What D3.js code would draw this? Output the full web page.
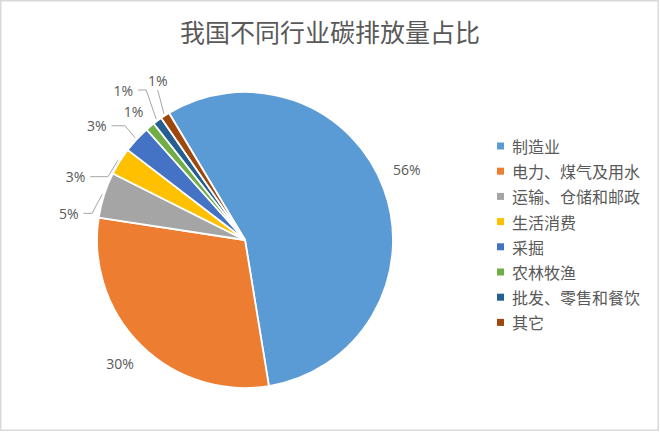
<!DOCTYPE html>
<html><head><meta charset="utf-8">
<script src="https://cdn.jsdelivr.net/npm/d3@7"></script>
<style>body{margin:0;background:#fff;overflow:hidden}</style>
</head><body><svg id="c" width="660" height="433"></svg>
<script>
const title = "我国不同行业碳排放量占比";
const categories = ["制造业","电力、煤气及用水","运输、仓储和邮政","生活消费","采掘","农林牧渔","批发、零售和餐饮","其它"];
const shares = [56,30,5,3,3,1,1,1];
const percentLabels = ["56%","30%","5%","3%","3%","1%","1%","1%"];
const colors = ["#5B9BD5","#ED7D31","#A5A5A5","#FFC000","#4472C4","#70AD47","#255E91","#9E480E"];
// label placement tweaks: [angle shift in degrees, radius factor]
const labelTweak = [[-3.4,1.193],[0.7,1.186],[-9.1,1.205],[-11.6,1.222],[-5.3,1.265],[-1.1,1.149],[-2.75,1.305],[4.0,1.228]];

const W = 660, H = 433;
const svg = d3.select("#c");
const txt = "#595959";
const cjk = "'Noto Sans CJK SC', 'Noto Sans', sans-serif";
const latin = "'Open Sans', Lato, sans-serif";

svg.append("rect").attr("x",0.75).attr("y",0.75).attr("width",W-2.5).attr("height",H-3.5)
  .attr("fill","#fff").attr("stroke","#d9d9d9").attr("stroke-width",1.5);

svg.append("text").attr("x",330).attr("y",31).attr("text-anchor","middle")
  .attr("dominant-baseline","central").attr("font-family",cjk).attr("font-size",25)
  .attr("fill",txt).text(title);

const cx = 245, cy = 240, r = 148;
const rad = Math.PI/180;
const start = -30.9*rad;
const data = categories.map((c,i)=>({name:c, value:shares[i], label:percentLabels[i], color:colors[i], i}));
const pie = d3.pie().value(d=>d.value).sort(null).startAngle(start).endAngle(start+2*Math.PI);
const arcs = pie(data);
const arc = d3.arc().innerRadius(0).outerRadius(r);

const g = svg.append("g").attr("transform",`translate(${cx},${cy})`);
g.selectAll("path").data(arcs).join("path")
  .attr("d",arc).attr("fill",d=>d.data.color)
  .attr("stroke","#fff").attr("stroke-width",1.8).attr("stroke-linejoin","round");

// labels
const lg = svg.append("g");
arcs.forEach(a=>{
  const mid = (a.startAngle+a.endAngle)/2;
  const tw = labelTweak[a.data.i];
  const th = mid + tw[0]*rad, d = r*tw[1];
  const lx = cx + d*Math.sin(th), ly = cy - d*Math.cos(th);
  const t = lg.append("text").attr("x",lx).attr("y",ly).attr("text-anchor","middle")
    .attr("dominant-baseline","central").attr("font-family",latin).attr("font-size",14)
    .attr("fill",txt).text(a.data.label);
  const bb = t.node().getBBox();
  const ex = cx + (r+2)*Math.sin(mid), ey = cy - (r+2)*Math.cos(mid);
  const nx = Math.max(bb.x, Math.min(ex, bb.x+bb.width));
  const ny = Math.max(bb.y, Math.min(ey, bb.y+bb.height));
  const dist = Math.hypot(ex-nx, ey-ny);
  if (a.data.value < 10 && dist > 18) {
    const right = bb.x + bb.width;
    let p;
    if (right + 5 < ex - 10) {
      p = `M${right+5},${ly}H${ex-10}L${ex},${ey}`;
    } else {
      p = `M${lx},${bb.y+bb.height}L${ex},${ey}`;
    }
    lg.append("path").attr("d",p).attr("fill","none").attr("stroke","#a6a6a6").attr("stroke-width",1);
  }
});

// legend
const leg = svg.append("g");
const ly0 = 146, step = 25.2;
data.forEach((d,i)=>{
  const y = ly0 + i*step;
  leg.append("rect").attr("x",497).attr("y",y-3.5).attr("width",7).attr("height",7).attr("fill",d.color);
  leg.append("text").attr("x",512).attr("y",y).attr("dominant-baseline","central")
    .attr("font-family",cjk).attr("font-size",16).attr("fill",txt).text(d.name);
});
</script></body></html>
